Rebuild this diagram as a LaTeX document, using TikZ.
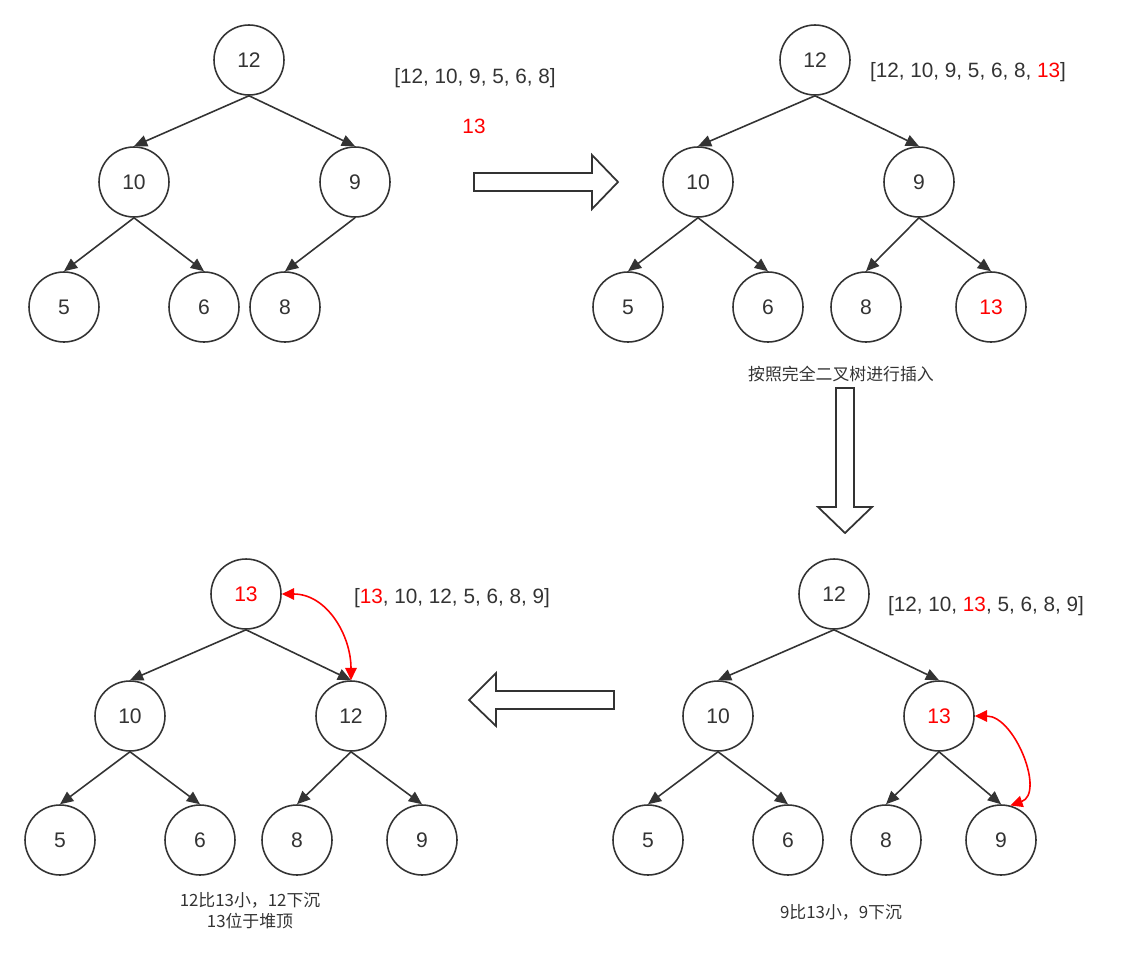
\documentclass[tikz,border=0pt]{standalone}
\usepackage{fontspec}
\setmainfont{Liberation Sans}
\newfontfamily\cjk{Noto Sans CJK SC}
\usetikzlibrary{positioning,arrows.meta}
\definecolor{ink}{HTML}{333333}

\begin{document}
\begin{tikzpicture}[x=0.02cm,y=-0.02cm,
    heap/.style={circle,draw=ink,line width=0.9pt,minimum size=1.4cm,inner sep=0pt,text=ink,font=\fontsize{12}{14}\selectfont},
    link/.style={every edge/.style={draw=ink,line width=0.9pt,-{Triangle[length=7.5pt,width=6.5pt]}}},
    swap/.style={draw=red,line width=0.9pt,{Triangle[length=7pt,width=6.5pt]}-{Triangle[length=7pt,width=6.5pt]}},
    hollow/.style={draw=ink,line width=1pt,fill=white},
    list/.style={text=ink,font=\fontsize{11.8}{14}\selectfont},
    note/.style={text=ink,font=\cjk\fontsize{9.6}{12}\selectfont,align=center}]
    \useasboundingbox (0,0) rectangle (1133,954);

    % tree before insertion
    \node[heap] (a12) at (249,60) {12};
    \node[heap] (a10) at (134,182) {10};
    \node[heap] (a9) at (355,182) {9};
    \node[heap] (a5) at (64,307) {5};
    \node[heap] (a6) at (204,307) {6};
    \node[heap] (a8) at (285,307) {8};
    \node[list] (lista) at (475,78) {[12, 10, 9, 5, 6, 8]};
    \node[list,text=red] (newkey) at (474,126) {13};
    \path[link]
        (a12.south) edge (a10.north)
        (a12.south) edge (a9.north)
        (a10.south) edge (a5.north)
        (a10.south) edge (a6.north)
        (a9.south) edge (a8.north);

    \draw[hollow] (474,173) -- (592,173) -- (592,155) -- (618,182) -- (592,209) -- (592,191) -- (474,191) -- cycle;

    % inserted as last leaf
    \node[heap] (b12) at (815,60) {12};
    \node[heap] (b10) at (698,182) {10};
    \node[heap] (b9) at (919,182) {9};
    \node[heap] (b5) at (628,307) {5};
    \node[heap] (b6) at (768,307) {6};
    \node[heap] (b8) at (866,307) {8};
    \node[heap,text=red] (b13) at (991,307) {13};
    \node[list] (listb) at (968,72) {[12, 10, 9, 5, 6, 8, \textcolor{red}{13}]};
    \node[note] (noteb) at (841,374) {按照完全二叉树进行插入};
    \path[link]
        (b12.south) edge (b10.north)
        (b12.south) edge (b9.north)
        (b10.south) edge (b5.north)
        (b10.south) edge (b6.north)
        (b9.south) edge (b8.north)
        (b9.south) edge (b13.north);

    \draw[hollow] (836,388) -- (854,388) -- (854,507) -- (872,507) -- (845,533) -- (818,507) -- (836,507) -- cycle;

    % first swap
    \node[heap] (c12) at (834,594) {12};
    \node[heap] (c10) at (718,716) {10};
    \node[heap,text=red] (c13) at (939,716) {13};
    \node[heap] (c5) at (648,840) {5};
    \node[heap] (c6) at (788,840) {6};
    \node[heap] (c8) at (886,840) {8};
    \node[heap] (c9) at (1001,840) {9};
    \node[list] (listc) at (986,606) {[12, 10, \textcolor{red}{13}, 5, 6, 8, 9]};
    \node[note] (notec) at (841,912) {9比13小，9下沉};
    \path[link]
        (c12.south) edge (c10.north)
        (c12.south) edge (c13.north)
        (c10.south) edge (c5.north)
        (c10.south) edge (c6.north)
        (c13.south) edge (c8.north)
        (c13.south) edge (c9.north);
    \draw[swap] (c13.east) .. controls +(40,0) and +(35,-12) .. (c9.75);

    \draw[hollow] (614,691) -- (496,691) -- (496,673) -- (469,700) -- (496,726) -- (496,709) -- (614,709) -- cycle;

    % second swap
    \node[heap,text=red] (d13) at (246,594) {13};
    \node[heap] (d10) at (130,716) {10};
    \node[heap] (d12) at (351,716) {12};
    \node[heap] (d5) at (60,840) {5};
    \node[heap] (d6) at (200,840) {6};
    \node[heap] (d8) at (297,840) {8};
    \node[heap] (d9) at (422,840) {9};
    \node[list] (listd) at (452,598) {[\textcolor{red}{13}, 10, 12, 5, 6, 8, 9]};
    \node[note] (noted) at (250,911) {12比13小，12下沉\\13位于堆顶};
    \path[link]
        (d13.south) edge (d10.north)
        (d13.south) edge (d12.north)
        (d10.south) edge (d5.north)
        (d10.south) edge (d6.north)
        (d12.south) edge (d8.north)
        (d12.south) edge (d9.north);
    \draw[swap] (d13.east) .. controls +(45,0) and +(0,-45) .. (d12.north);
\end{tikzpicture}
\end{document}
